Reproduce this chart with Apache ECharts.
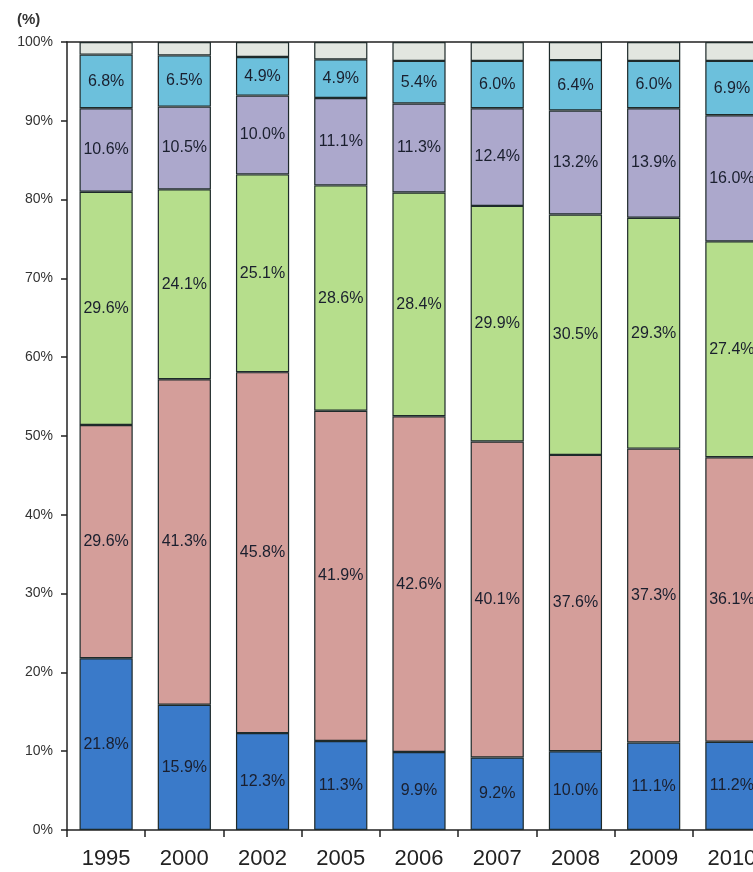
<!DOCTYPE html>
<html><head><meta charset="utf-8">
<script src="https://cdn.jsdelivr.net/npm/echarts@6/dist/echarts.min.js"></script>
<style>html,body{margin:0;padding:0;background:#fff;overflow:hidden}#c{width:771px;height:872px}</style>
</head><body><div id="c"></div>
<script>
const categories = ['1995','2000','2002','2005','2006','2007','2008','2009','2010'];
const seriesA = [21.8, 15.9, 12.3, 11.3, 9.9, 9.2, 10.0, 11.1, 11.2];
const seriesB = [29.6, 41.3, 45.8, 41.9, 42.6, 40.1, 37.6, 37.3, 36.1];
const seriesC = [29.6, 24.1, 25.1, 28.6, 28.4, 29.9, 30.5, 29.3, 27.4];
const seriesD = [10.6, 10.5, 10.0, 11.1, 11.3, 12.4, 13.2, 13.9, 16.0];
const seriesE = [6.8, 6.5, 4.9, 4.9, 5.4, 6.0, 6.4, 6.0, 6.9];
const seriesRest = categories.map((_, i) =>
  +(100 - seriesA[i] - seriesB[i] - seriesC[i] - seriesD[i] - seriesE[i]).toFixed(1));
const yTicks = [0,10,20,30,40,50,60,70,80,90,100];

const font = '"Liberation Sans", Arial, sans-serif';
const colors = ['#3a7ac9', '#d49e9a', '#b6de8c', '#aca8cc', '#6cc0dc', '#e2e6e0'];
const datasets = [seriesA, seriesB, seriesC, seriesD, seriesE, seriesRest];

const chart = echarts.init(document.getElementById('c'));
chart.setOption({
  animation: false,
  grid: { left: 67, right: 0, top: 42, bottom: 42 },
  graphic: [{ type: 'text', left: 17, top: 12, style: { text: '(%)', font: 'bold 15px ' + font, fill: '#333' } }],
  xAxis: [{
    type: 'category', data: categories,
    axisLine: { lineStyle: { color: '#222', width: 1.5 } },
    axisTick: { show: true, length: 7, lineStyle: { color: '#222', width: 1.5 } },
    axisLabel: { fontSize: 22, color: '#222', fontFamily: font, margin: 18 }
  }, {
    type: 'category', data: categories, position: 'top',
    axisLine: { lineStyle: { color: '#222', width: 1.5 } },
    axisTick: { show: false }, axisLabel: { show: false }
  }],
  yAxis: {
    type: 'value', min: 0, max: 100, interval: 10,
    axisLine: { show: true, lineStyle: { color: '#222', width: 1.5 } },
    axisTick: { show: true, length: 6, lineStyle: { color: '#222', width: 1.5 } },
    splitLine: { show: false },
    axisLabel: { fontSize: 14, color: '#333', fontFamily: font, margin: 14,
      formatter: v => yTicks.includes(v) ? v + '%' : '' }
  },
  series: datasets.map((d, i) => ({
    type: 'bar', stack: 'all', data: d, barWidth: '68%',
    itemStyle: { color: colors[i], borderColor: '#1e2a2a', borderWidth: 1.2 },
    label: {
      show: i < 5, position: 'inside', formatter: p => p.value.toFixed(1) + '%',
      fontSize: 16, color: '#1a1f2e', fontFamily: font
    }
  }))
});
</script></body></html>
